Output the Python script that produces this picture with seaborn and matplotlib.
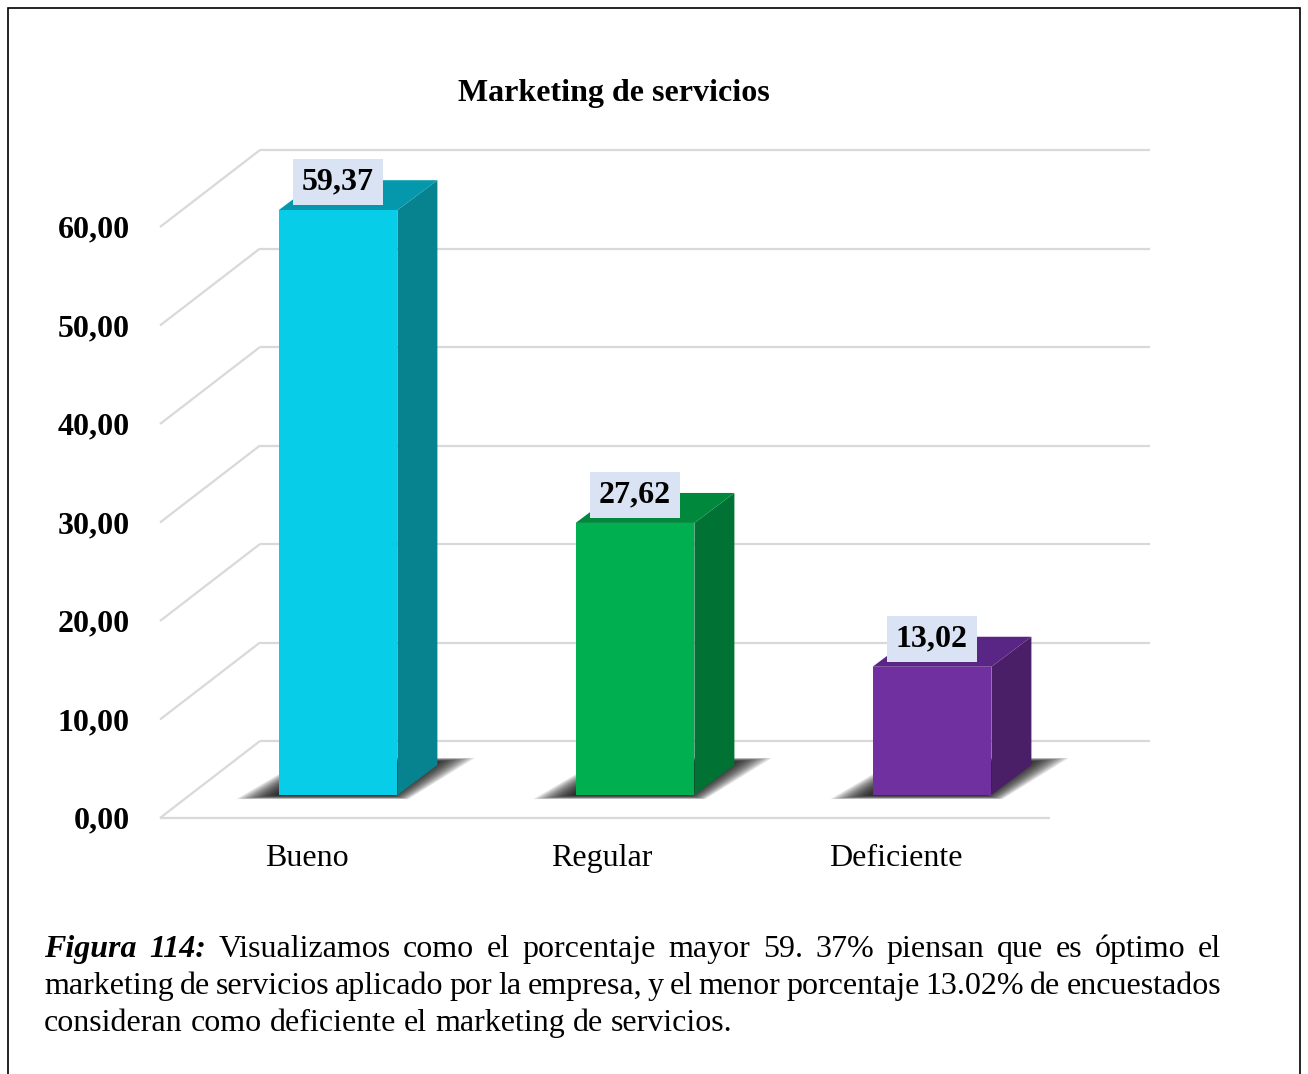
import matplotlib
matplotlib.use("Agg")
import matplotlib.pyplot as plt
import seaborn as sns
import pandas as pd
import numpy as np
from matplotlib.patches import Polygon, Rectangle

# ---- data -------------------------------------------------------------
categories = ["Bueno", "Regular", "Deficiente"]
values = [59.37, 27.62, 13.02]
value_labels = ["59,37", "27,62", "13,02"]
tick_values = [0, 10, 20, 30, 40, 50, 60]
tick_labels = ["0,00", "10,00", "20,00", "30,00", "40,00", "50,00", "60,00"]
front_colors = ["#08CDE8", "#00B050", "#7030A0"]
side_colors = ["#06838F", "#007234", "#4A1F68"]
top_colors = ["#0598AC", "#00893D", "#5A2686"]
title = "Marketing de servicios"
caption_lines = [
    [("Figura", "bi"), ("114:", "bi"), ("Visualizamos", "r"), ("como", "r"), ("el", "r"),
     ("porcentaje", "r"), ("mayor", "r"), ("59.", "r"), ("37%", "r"), ("piensan", "r"),
     ("que", "r"), ("es", "r"), ("óptimo", "r"), ("el", "r")],
    [("marketing", "r"), ("de", "r"), ("servicios", "r"), ("aplicado", "r"), ("por", "r"),
     ("la", "r"), ("empresa,", "r"), ("y", "r"), ("el", "r"), ("menor", "r"),
     ("porcentaje", "r"), ("13.02%", "r"), ("de", "r"), ("encuestados", "r")],
    [("consideran", "r"), ("como", "r"), ("deficiente", "r"), ("el", "r"), ("marketing", "r"),
     ("de", "r"), ("servicios.", "r")],
]

# ---- figure / scales -------------------------------------------------
W, H = 1308, 1074
sns.set_theme(style="white")
plt.rcParams["font.family"] = ["Liberation Serif", "DejaVu Serif"]
FS = 23

fig = plt.figure(figsize=(W / 100, H / 100), dpi=100)
fig.patch.set_facecolor("white")
ax = fig.add_axes([0, 0, 1, 1])

df = pd.DataFrame({"cat": categories, "val": values})
sns.barplot(data=df, x="cat", y="val", hue="cat", palette=front_colors,
            width=0.4, saturation=1, legend=False, ax=ax, linewidth=0, zorder=4)

PX_X = 297.0     # pixels per category step
PX_Y = 9.85      # pixels per value unit
X0_PX, Y0_PX = 338.0, 795.0
ax.set_xlim(-X0_PX / PX_X, (W - X0_PX) / PX_X)
ax.set_ylim(-(H - Y0_PX) / PX_Y, Y0_PX / PX_Y)
ax.axis("off")


def dx(p):
    return p / PX_X


def dy(p):
    return p / PX_Y


# perspective frame
front_left = dx(160 - X0_PX)
front_right = dx(1050 - X0_PX)
back_left = dx(260 - X0_PX)
back_right = dx(1150 - X0_PX)
front_off = dy(Y0_PX - 818)
back_off = dy(Y0_PX - 741)
grid_kw = dict(color="#d9d9d9", lw=1.6, zorder=1, solid_capstyle="butt")

for v in tick_values:
    ax.plot([back_left, back_right], [v + back_off, v + back_off], **grid_kw)
    ax.plot([front_left, back_left], [v + front_off, v + back_off], **grid_kw)
ax.plot([front_left, front_right], [front_off, front_off], **grid_kw)

# bar depth
ddx, ddy = dx(40), dy(30)

for i, patch in enumerate(ax.patches[:len(values)]):
    x0 = patch.get_x()
    w = patch.get_width()
    h = patch.get_height()

    # soft floor shadow (stacked translucent layers)
    shadow = np.array([[x0 - 0.08, -0.25], [x0 + w + 0.01, -0.25],
                       [x0 + w + 0.2, ddy + 0.55], [x0 + 0.12, ddy + 0.55]])
    c = shadow.mean(axis=0)
    for s in np.linspace(1.18, 0.74, 16):
        ax.add_patch(Polygon(c + (shadow - c) * np.array([s, s ** 0.5]),
                             closed=True, fc="black", ec="none", alpha=0.11, zorder=2))

    side = [(x0 + w, 0), (x0 + w + ddx, ddy), (x0 + w + ddx, h + ddy), (x0 + w, h)]
    top = [(x0, h), (x0 + ddx, h + ddy), (x0 + w + ddx, h + ddy), (x0 + w, h)]
    ax.add_patch(Polygon(side, closed=True, fc=side_colors[i], ec="none", zorder=3))
    ax.add_patch(Polygon(top, closed=True, fc=top_colors[i], ec="none", zorder=3))

    ax.text(x0 + w / 2, h + dy(28), value_labels[i], ha="center", va="center",
            fontsize=FS, fontweight="bold", color="black", zorder=6,
            bbox=dict(boxstyle="square,pad=0.27", fc="#DAE3F3", ec="none"))

# value axis labels on the front plane
for v, lab in zip(tick_values, tick_labels):
    ax.text(dx(130 - X0_PX), v + front_off - dy(3), lab, ha="right", va="center",
            fontsize=FS, fontweight="bold", color="black")

# category labels
for i, cat in enumerate(categories):
    ax.text(i - dx(31) - i * dx(2.5), dy(Y0_PX - 866), cat, ha="center", va="baseline",
            fontsize=FS, color="black")

fig.text(614 / W, 1 - 94 / H, title, ha="center", va="center",
         fontsize=FS, fontweight="bold", color="black")

# outer frame
fig.add_artist(Rectangle((8 / W, -0.02), (1300 - 8) / W, 1 - 8 / H + 0.02,
                         transform=fig.transFigure, fc="none", ec="black", lw=1.2))

# justified caption
renderer = fig.canvas.get_renderer()
styles = {"bi": dict(fontweight="bold", fontstyle="italic"), "r": dict()}
space_px = 0.25 * FS * 100 / 72
x_left, x_right = 44.0, 1221.0
baselines = [957, 994, 1031]
for li, (line, base) in enumerate(zip(caption_lines, baselines)):
    texts, widths = [], []
    for word, st in line:
        t = fig.text(0, 1 - base / H, word, fontsize=FS, ha="left", va="baseline",
                     color="black", **styles[st])
        widths.append(t.get_window_extent(renderer).width)
        texts.append(t)
    justify = li < len(caption_lines) - 1
    gap = (x_right - x_left - sum(widths)) / (len(texts) - 1) if justify else space_px
    x = x_left
    for t, w in zip(texts, widths):
        t.set_x(x / W)
        x += w + gap

fig.savefig("out.png", dpi=100, facecolor="white")
